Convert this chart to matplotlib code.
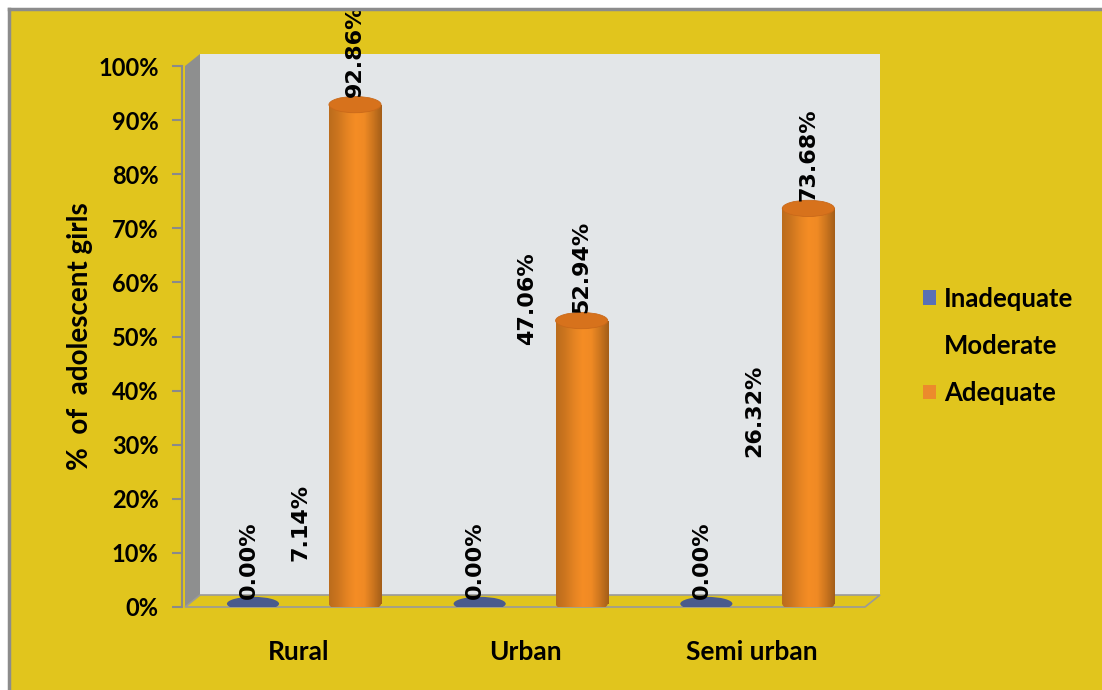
import matplotlib.pyplot as plt
import numpy as np
from matplotlib.patches import Rectangle, Ellipse, Polygon, Patch
from matplotlib.colors import to_rgb

# data (% of adolescent girls)
categories = ['Rural', 'Urban', 'Semi urban']
series_names = ['Inadequate', 'Moderate', 'Adequate']
inadequate = [0.00, 0.00, 0.00]
moderate = [7.14, 47.06, 26.32]
adequate = [92.86, 52.94, 73.68]
y_ticks = [0, 10, 20, 30, 40, 50, 60, 70, 80, 90, 100]

BG = '#E1C51D'
WALL = '#E3E6E8'
SIDE = '#8E8F8F'
BLUE = '#4A5B8D'
ORANGE = '#F08A24'

W, H = 1102, 690
fig = plt.figure(figsize=(W / 100, H / 100), dpi=100)
fig.patch.set_facecolor(BG)

# front plane of the chart, pixel box
x0p, x1p, y0p, y1p = 185, 865, 607, 66
ax = fig.add_axes([x0p / W, (H - y0p) / H, (x1p - x0p) / W, (y0p - y1p) / H])
ax.set_xlim(-0.5, 2.5)
ax.set_ylim(0, 100)
ax.patch.set_alpha(0)

# depth offset of the back wall in data units
dx = 15 / (x1p - x0p) * 3.0
dy = 12 / (y0p - y1p) * 100

# back wall, side wall, floor
ax.add_patch(Rectangle((-0.5 + dx, dy), 3.0, 100, facecolor=WALL,
                       edgecolor='none', zorder=0, clip_on=False))
ax.add_patch(Polygon([(-0.5, 0), (-0.5, 100), (-0.5 + dx, 100 + dy), (-0.5 + dx, dy)],
                     closed=True, facecolor=SIDE, edgecolor='none', zorder=0, clip_on=False))
ax.add_patch(Polygon([(-0.5, 0), (2.5, 0), (2.5 + dx, dy), (-0.5 + dx, dy)],
                     closed=True, facecolor=BG, edgecolor='#9A9A9A', lw=1.2,
                     zorder=1, clip_on=False))

# cylinders
offsets = [-0.2, 0.01, 0.25]
bw = 0.23
eh = 3.0
shade = np.array([0.78, 0.85, 0.95, 1.02, 1.0, 0.85, 0.68])
xs = np.linspace(0, 1, 200)
k = np.interp(xs, np.linspace(0, 1, len(shade)), shade)
base = np.array(to_rgb(ORANGE))
grad = np.clip(base[None, :] * k[:, None], 0, 1)[None, :, :]


def cylinder(x, v, color):
    if v <= 0:
        ax.add_patch(Ellipse((x, 0.6), bw, eh * 0.85, facecolor=color, edgecolor='none', zorder=3))
        return
    body = Rectangle((x - bw / 2, 0.6), bw, v - 0.6, transform=ax.transData)
    im = ax.imshow(grad, extent=(x - bw / 2, x + bw / 2, 0.6, v), aspect='auto',
                   zorder=3, interpolation='bilinear')
    im.set_clip_path(body)
    ell_b = Ellipse((x, 0.6), bw, eh, transform=ax.transData)
    im2 = ax.imshow(grad, extent=(x - bw / 2, x + bw / 2, 0.6 - eh / 2, 0.6 + eh / 2),
                    aspect='auto', zorder=3, interpolation='bilinear')
    im2.set_clip_path(ell_b)
    ax.add_patch(Ellipse((x, v), bw, eh, facecolor='#D7721C', edgecolor='#C9691A',
                         lw=0.6, zorder=4))


groups = [inadequate, moderate, adequate]
for si, vals in enumerate(groups):
    for ci, v in enumerate(vals):
        x = ci + offsets[si]
        if si == 0:
            cylinder(x, v, BLUE)
        elif si == 2:
            cylinder(x, v, ORANGE)
        ax.text(x - (0.02 if si == 0 else 0), v + 1.4,
                '%.2f%%' % v, rotation=90, ha='center', va='bottom',
                fontsize=16, fontweight='bold', family='DejaVu Sans', zorder=6)

ax.set_xlim(-0.5, 2.5)
ax.set_ylim(0, 100)

# axes styling
for s in ['top', 'right', 'bottom']:
    ax.spines[s].set_visible(False)
ax.spines['left'].set_color('#8A8A8A')
ax.spines['left'].set_linewidth(1.5)
ax.spines['left'].set_position(('outward', 2))
ax.set_yticks(y_ticks)
ax.set_yticklabels(['%d%%' % t for t in y_ticks])
ax.tick_params(axis='y', length=7, width=1.5, color='#8A8A8A', pad=10,
               labelsize=17)
ax.set_xticks(range(len(categories)))
ax.set_xticklabels(categories)
ax.tick_params(axis='x', length=0, pad=24, labelsize=19)
for lab in ax.get_yticklabels() + ax.get_xticklabels():
    lab.set_fontfamily('Lato')
    lab.set_fontweight('bold')

ax.set_ylabel('%  of  adolescent girls', fontsize=20, fontweight='bold',
              family='Lato', labelpad=4)

handles = [Patch(facecolor='#5A70B5', edgecolor='none'),
           Patch(facecolor='none', edgecolor='none'),
           Patch(facecolor='#EC8A2C', edgecolor='none')]
leg = fig.legend(handles, series_names, loc='center left',
                 bbox_to_anchor=(900 / W, (H - 346) / H), frameon=False,
                 prop={'family': 'Lato', 'weight': 'bold', 'size': 18.5},
                 handlelength=0.5, handleheight=0.5, handletextpad=0.3,
                 labelspacing=0.9)

# thin border at top-left
fig.add_artist(plt.Line2D([9 / W, 9 / W], [0, 1 - 9 / H], color='#8C8C8C', lw=2.5))
fig.add_artist(plt.Line2D([9 / W, 1], [1 - 9 / H, 1 - 9 / H], color='#8C8C8C', lw=2.5))
fig.add_artist(Rectangle((0, 1 - 8 / H), 1, 8 / H, facecolor='white', edgecolor='none',
                         transform=fig.transFigure))
fig.add_artist(Rectangle((0, 0), 8 / W, 1, facecolor='white', edgecolor='none',
                         transform=fig.transFigure))

fig.savefig('out.png', dpi=100, facecolor=fig.get_facecolor())
